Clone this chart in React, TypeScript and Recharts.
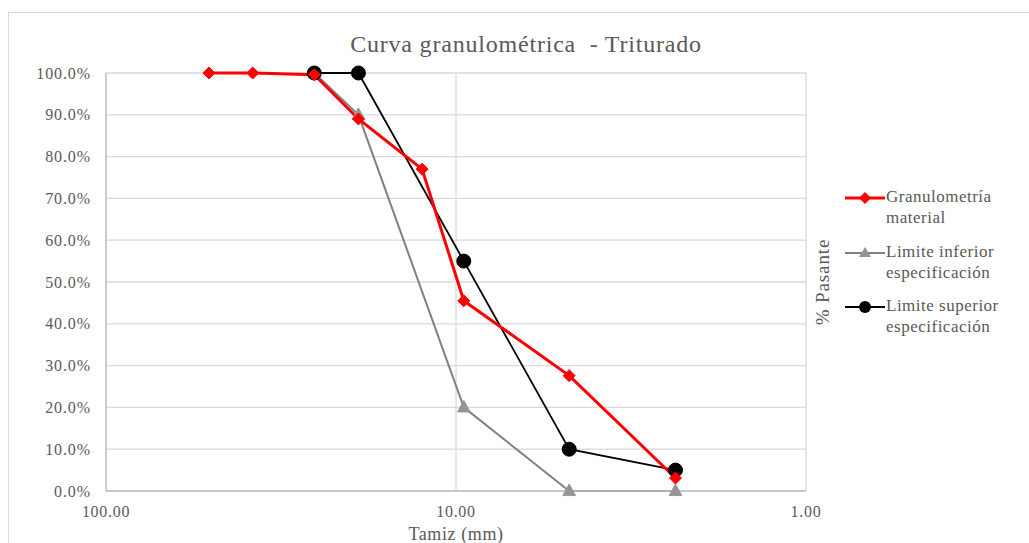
import React from "react";
import { LineChart, Line, XAxis, YAxis, CartesianGrid } from "recharts";

// Sieve sizes (mm) and passing fractions
const granSizes = [50.8, 38.1, 25.4, 19.0, 12.5, 9.5, 4.75, 2.36];
const granPass = [1.0, 1.0, 0.996, 0.89, 0.77, 0.455, 0.276, 0.031];
const specSizes = [25.4, 19.0, 9.5, 4.75, 2.36];
const lowerPass = [1.0, 0.9, 0.2, 0.0, 0.0];
const upperPass = [1.0, 1.0, 0.55, 0.1, 0.05];

const xTicks = [100, 10, 1];
const yTicks = [0, 0.1, 0.2, 0.3, 0.4, 0.5, 0.6, 0.7, 0.8, 0.9, 1.0];

const title = "Curva granulométrica  - Triturado";
const xLabel = "Tamiz (mm)";
const yLabel = "% Pasante";
const seriesNames = [
  ["Granulometría", "material"],
  ["Limite inferior", "especificación"],
  ["Limite superior", "especificación"],
];

const granData = granSizes.map((s, i) => ({ size: s, pass: granPass[i] }));
const lowerData = specSizes.map((s, i) => ({ size: s, pass: lowerPass[i] }));
const upperData = specSizes.map((s, i) => ({ size: s, pass: upperPass[i] }));

const FONT = "'Liberation Serif', 'Tinos', 'Times New Roman', 'DejaVu Serif', serif";
const TXT = "#595959";

const Diamond = (props: any) => {
  const { cx, cy, key } = props;
  if (cx == null || cy == null) return null;
  const r = 6;
  return (
    <polygon
      key={key}
      points={`${cx},${cy - r} ${cx + r},${cy} ${cx},${cy + r} ${cx - r},${cy}`}
      fill="#FF0000"
      stroke="#FF0000"
    />
  );
};

const Triangle = (props: any) => {
  const { cx, cy, key } = props;
  if (cx == null || cy == null) return null;
  const r = 7;
  return (
    <polygon
      key={key}
      points={`${cx},${cy - r} ${cx + r * 0.9},${cy + r * 0.65} ${cx - r * 0.9},${cy + r * 0.65}`}
      fill="#959595"
      stroke="#959595"
    />
  );
};

const Circle = (props: any) => {
  const { cx, cy, key } = props;
  if (cx == null || cy == null) return null;
  return <circle key={key} cx={cx} cy={cy} r={7} fill="#000000" stroke="#000000" />;
};

const LegendIcon = ({ idx }: { idx: number }) => {
  const colors = ["#FF0000", "#808080", "#000000"];
  const widths = [3, 2, 2];
  return (
    <svg width={40} height={14} style={{ display: "block" }}>
      <line x1={0} y1={7} x2={40} y2={7} stroke={colors[idx]} strokeWidth={widths[idx]} />
      {idx === 0 && <polygon points="20,1 26,7 20,13 14,7" fill="#FF0000" />}
      {idx === 1 && <polygon points="20,1 26,11 14,11" fill="#959595" />}
      {idx === 2 && <circle cx={20} cy={7} r={6} fill="#000" />}
    </svg>
  );
};

export default function App() {
  const legendTops = [173, 228, 282];
  return (
    <div
      style={{
        position: "absolute",
        left: 8,
        top: 12,
        width: 1020,
        height: 531,
        borderLeft: "1px solid #d9d9d9",
        borderTop: "1px solid #d9d9d9",
        background: "#fff",
        fontFamily: FONT,
        overflow: "hidden",
      }}
    >
      <div
        style={{
          position: "absolute",
          left: 0,
          width: 1034,
          top: 16,
          textAlign: "center",
          fontSize: 24,
          lineHeight: "30px",
          color: TXT,
          whiteSpace: "pre",
          letterSpacing: 0.8,
          fontFamily: FONT,
        }}
      >
        {title}
      </div>
      <LineChart
        width={1020}
        height={530}
        margin={{ top: 60, right: 191, bottom: 22, left: 17 }}
        style={{ fontFamily: FONT }}
      >
        <CartesianGrid stroke="#d9d9d9" strokeWidth={1.3} yAxisId="left" />
        <XAxis
          dataKey="size"
          type="number"
          scale="log"
          domain={[1, 100]}
          reversed
          ticks={xTicks}
          tickFormatter={(v: number) => v.toFixed(2)}
          allowDataOverflow
          tickSize={0}
          tickMargin={15}
          height={30}
          axisLine={{ stroke: "#bfbfbf", strokeWidth: 1.3 }}
          tick={{ fill: TXT, fontSize: 16, fontFamily: FONT, letterSpacing: 0.7 }}
          label={{ value: xLabel, position: "bottom", offset: 6, fill: TXT, fontSize: 18, fontFamily: FONT, letterSpacing: 0.6 }}
        />
        <YAxis
          yAxisId="left"
          type="number"
          domain={[0, 1]}
          ticks={yTicks}
          tickFormatter={(v: number) => (v * 100).toFixed(1) + "%"}
          tickSize={0}
          tickMargin={15}
          width={80}
          axisLine={{ stroke: "#bfbfbf", strokeWidth: 1.3 }}
          tick={{ fill: TXT, fontSize: 16, fontFamily: FONT, letterSpacing: 0.9 }}
        />
        <YAxis
          yAxisId="right"
          orientation="right"
          type="number"
          domain={[0, 1]}
          tick={false}
          tickLine={false}
          axisLine={false}
          width={32}
          label={{ value: yLabel, angle: -90, position: "center", fill: TXT, fontSize: 19, fontFamily: FONT, letterSpacing: 0.9 }}
        />
        <Line
          yAxisId="left"
          data={lowerData}
          dataKey="pass"
          name="Limite inferior especificación"
          stroke="#808080"
          strokeWidth={2}
          dot={Triangle}
          activeDot={false}
          isAnimationActive={false}
        />
        <Line
          yAxisId="left"
          data={upperData}
          dataKey="pass"
          name="Limite superior especificación"
          stroke="#000000"
          strokeWidth={1.8}
          dot={Circle}
          activeDot={false}
          isAnimationActive={false}
        />
        <Line
          yAxisId="left"
          data={granData}
          dataKey="pass"
          name="Granulometría material"
          stroke="#FF0000"
          strokeWidth={3}
          dot={Diamond}
          activeDot={false}
          isAnimationActive={false}
        />
      </LineChart>
      {seriesNames.map((lines, i) => (
        <div
          key={i}
          style={{
            position: "absolute",
            left: 836,
            top: legendTops[i],
            display: "flex",
            alignItems: "flex-start",
            color: TXT,
            fontSize: 17,
            lineHeight: "21px",
            letterSpacing: 0.5,
            fontFamily: FONT,
          }}
        >
          <div style={{ marginTop: 5 }}>
            <LegendIcon idx={i} />
          </div>
          <div style={{ marginLeft: 1 }}>
            {lines[0]}
            <br />
            {lines[1]}
          </div>
        </div>
      ))}
    </div>
  );
}
